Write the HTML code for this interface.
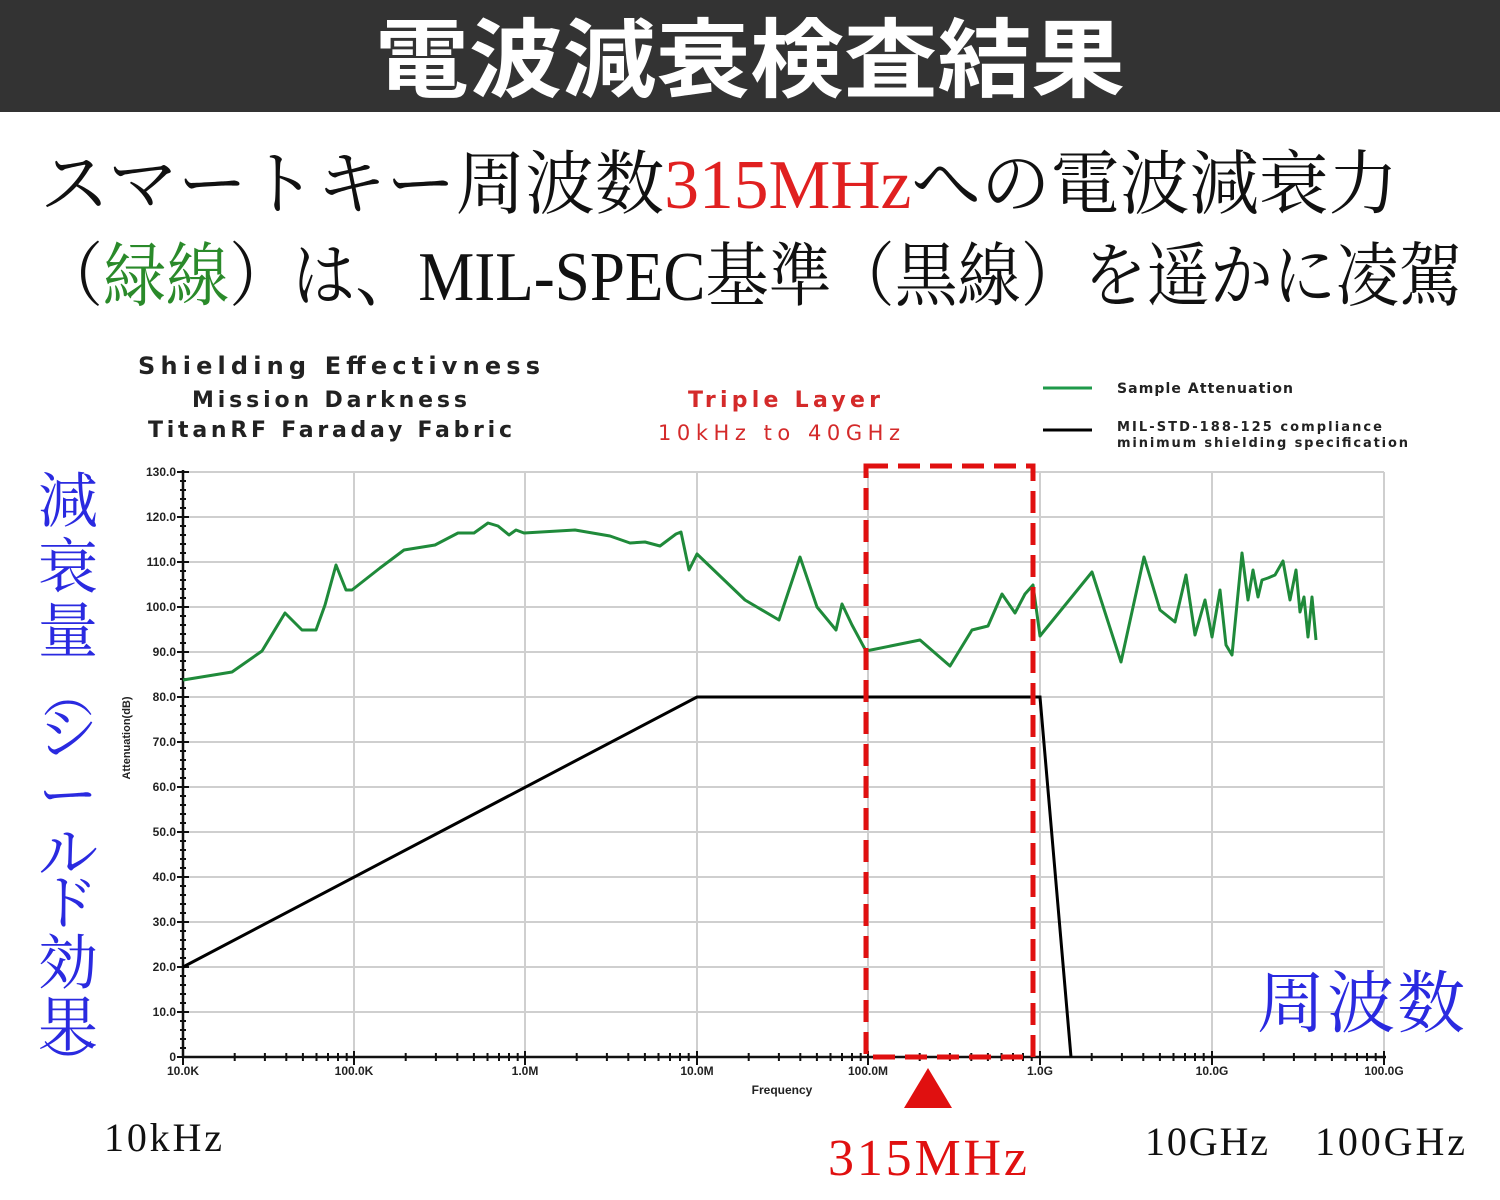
<!DOCTYPE html>
<html><head><meta charset="utf-8"><style>
html,body{margin:0;padding:0;background:#fff;}
svg{display:block}
</style></head><body>
<svg width="1500" height="1200" viewBox="0 0 1500 1200" xmlns="http://www.w3.org/2000/svg">
<rect x="0" y="0" width="1500" height="1200" fill="#fff"/>
<rect x="0" y="0" width="1500" height="112" fill="#333"/>
<text x="375" y="90" textLength="750" lengthAdjust="spacingAndGlyphs" font-family="'Noto Sans CJK JP',sans-serif" font-weight="bold" font-size="86" fill="#fff">電波減衰検査結果</text>
<g font-family="'Liberation Serif','Noto Serif CJK SC',serif" font-size="70" fill="#111">
<text x="40" y="208" textLength="1358" lengthAdjust="spacingAndGlyphs">スマートキー周波数<tspan fill="#e02020">315MHz</tspan>への電波減衰力</text>
<text x="40" y="300" textLength="1422" lengthAdjust="spacingAndGlyphs">（<tspan fill="#2a8a2a">緑線</tspan>）は、MIL-SPEC基準（黒線）を遥かに凌駕</text>
</g>
<!-- chart titles -->
<g font-family="'DejaVu Sans',sans-serif" font-weight="bold" fill="#222" lengthAdjust="spacingAndGlyphs">
<text x="138" y="374" font-size="24" textLength="402">Shielding Effectivness</text>
<text x="192" y="407" font-size="22" textLength="275">Mission Darkness</text>
<text x="148" y="437" font-size="22" textLength="364">TitanRF Faraday Fabric</text>
<text x="688" y="407" font-size="22" fill="#d42a2a" textLength="192">Triple Layer</text>
<text x="658" y="440" font-size="21" fill="#d42a2a" textLength="242" font-weight="normal">10kHz to 40GHz</text>
<text x="1117" y="393" font-size="14" textLength="176">Sample Attenuation</text>
<text x="1117" y="431" font-size="13" textLength="265">MIL-STD-188-125 compliance</text>
<text x="1117" y="447" font-size="13" textLength="291">minimum shielding specification</text>
</g>
<line x1="1043" y1="388" x2="1092" y2="388" stroke="#1f9a4a" stroke-width="3"/>
<line x1="1043" y1="430" x2="1092" y2="430" stroke="#000" stroke-width="3"/>
<!-- grid -->
<g stroke="#cfcfcf" stroke-width="2">
<line x1="183" y1="472" x2="1384" y2="472"/><line x1="183" y1="517" x2="1384" y2="517"/><line x1="183" y1="562" x2="1384" y2="562"/><line x1="183" y1="607" x2="1384" y2="607"/><line x1="183" y1="652" x2="1384" y2="652"/><line x1="183" y1="697" x2="1384" y2="697"/><line x1="183" y1="742" x2="1384" y2="742"/><line x1="183" y1="787" x2="1384" y2="787"/><line x1="183" y1="832" x2="1384" y2="832"/><line x1="183" y1="877" x2="1384" y2="877"/><line x1="183" y1="922" x2="1384" y2="922"/><line x1="183" y1="967" x2="1384" y2="967"/><line x1="183" y1="1012" x2="1384" y2="1012"/>
<line x1="354" y1="472" x2="354" y2="1057"/><line x1="525" y1="472" x2="525" y2="1057"/><line x1="697" y1="472" x2="697" y2="1057"/><line x1="868" y1="472" x2="868" y2="1057"/><line x1="1040" y1="472" x2="1040" y2="1057"/><line x1="1212" y1="472" x2="1212" y2="1057"/><line x1="1384" y1="472" x2="1384" y2="1057"/>
</g>
<!-- axes -->
<g stroke="#111" stroke-width="2.5">
<line x1="183" y1="470" x2="183" y2="1058"/>
<line x1="182" y1="1057" x2="1386" y2="1057"/>
</g>
<g stroke="#111" stroke-width="2">
<path d="M177 472h12M177 517h12M177 562h12M177 607h12M177 652h12M177 697h12M177 742h12M177 787h12M177 832h12M177 877h12M177 922h12M177 967h12M177 1012h12M177 1057h12"/>
<path d="M180 481h6M180 490h6M180 499h6M180 508h6M180 526h6M180 535h6M180 544h6M180 553h6M180 571h6M180 580h6M180 589h6M180 598h6M180 616h6M180 625h6M180 634h6M180 643h6M180 661h6M180 670h6M180 679h6M180 688h6M180 706h6M180 715h6M180 724h6M180 733h6M180 751h6M180 760h6M180 769h6M180 778h6M180 796h6M180 805h6M180 814h6M180 823h6M180 841h6M180 850h6M180 859h6M180 868h6M180 886h6M180 895h6M180 904h6M180 913h6M180 931h6M180 940h6M180 949h6M180 958h6M180 976h6M180 985h6M180 994h6M180 1003h6M180 1021h6M180 1030h6M180 1039h6M180 1048h6"/>
</g>
<g stroke="#111" stroke-width="2" id="xt"></g>
<g font-family="'Liberation Sans',sans-serif" font-weight="bold" font-size="12" fill="#222" text-anchor="end">
<text x="176" y="476">130.0</text><text x="176" y="521">120.0</text><text x="176" y="566">110.0</text><text x="176" y="611">100.0</text><text x="176" y="656">90.0</text><text x="176" y="701">80.0</text><text x="176" y="746">70.0</text><text x="176" y="791">60.0</text><text x="176" y="836">50.0</text><text x="176" y="881">40.0</text><text x="176" y="926">30.0</text><text x="176" y="971">20.0</text><text x="176" y="1016">10.0</text><text x="176" y="1061">0</text>
</g>
<g font-family="'Liberation Sans',sans-serif" font-weight="bold" font-size="12" fill="#222" text-anchor="middle">
<text x="183" y="1075">10.0K</text><text x="354" y="1075">100.0K</text><text x="525" y="1075">1.0M</text><text x="697" y="1075">10.0M</text><text x="868" y="1075">100.0M</text><text x="1040" y="1075">1.0G</text><text x="1212" y="1075">10.0G</text><text x="1384" y="1075">100.0G</text>
<text x="782" y="1094">Frequency</text>
<text transform="translate(130,738) rotate(-90)" font-size="11">Attenuation(dB)</text>
</g>
<!-- series -->
<polyline fill="none" stroke="#1f8a3a" stroke-width="3" stroke-linejoin="round" points="183,680 232,672 262,651 285,613 302,630 316,630 325,605 336,565 346,590 352,590 380,568 404,550 435,545 458,533 474,533 488,523 498,526 509,535 516,530 524,533 575,530 610,536 630,543 645,542 660,546 676,534 681,532 689,570 697,554 745,600 779,620 800,557 817,607 836,630 842,604 852,625 866,651 920,640 950,666 972,630 988,626 1002,594 1015,613 1025,594 1033,585 1040,636 1092,572 1121,662 1144,557 1160,610 1175,622 1186,575 1195,635 1205,600 1212,637 1220,590 1226,645 1232,655 1242,553 1248,600 1253,570 1258,597 1262,580 1268,578 1275,575 1283,561 1290,600 1296,570 1300,612 1304,597 1308,637 1312,597 1316,640"/>
<polyline fill="none" stroke="#000" stroke-width="3" points="183,967 697,697 1040,697 1071,1057"/>
<rect x="866" y="466" width="167" height="591" fill="none" stroke="#e01010" stroke-width="5" stroke-dasharray="22,10"/>
<polygon points="928,1068 904,1108 952,1108" fill="#e01010"/>
<!-- annotations -->
<g font-family="'Liberation Serif','Noto Serif CJK SC',serif" fill="#111" font-size="40" lengthAdjust="spacingAndGlyphs">
<text x="104" y="1151" textLength="118">10kHz</text>
<text x="1145" y="1155" textLength="123">10GHz</text>
<text x="1315" y="1155" textLength="150">100GHz</text>
<text x="828" y="1175" font-size="52" fill="#e01010" textLength="199">315MHz</text>
<text x="1257" y="1027" font-size="68" fill="#2a2ae0" textLength="208">周波数</text>
</g>
<g font-family="'Noto Serif CJK SC',serif" fill="#2a2ae0" font-size="60" text-anchor="middle">
<text x="68" y="522">減</text><text x="68" y="588">衰</text><text x="68" y="652">量</text>
<text x="68" y="712" font-size="50">︵</text>
<text x="68" y="755">シ</text><text x="68" y="816">ー</text><text x="68" y="874">ル</text><text x="68" y="924">ド</text>
<text x="68" y="984">効</text><text x="68" y="1046">果</text>
<text x="68" y="1082" font-size="50">︶</text>
</g>
<script>
(function(){var g=document.getElementById('xt');var d='';var dec=[183,354,525,697,868,1040,1212];var w=171.6;
for(var i=0;i<7;i++){d+='M'+dec[i]+' 1051v14';for(var k=2;k<10;k++){var x=dec[i]+w*Math.log10(k);d+='M'+x.toFixed(1)+' 1053v8';}}
d+='M1384 1051v14';var p=document.createElementNS('http://www.w3.org/2000/svg','path');p.setAttribute('d',d);g.appendChild(p);})();
</script>
</svg>
</body></html>
